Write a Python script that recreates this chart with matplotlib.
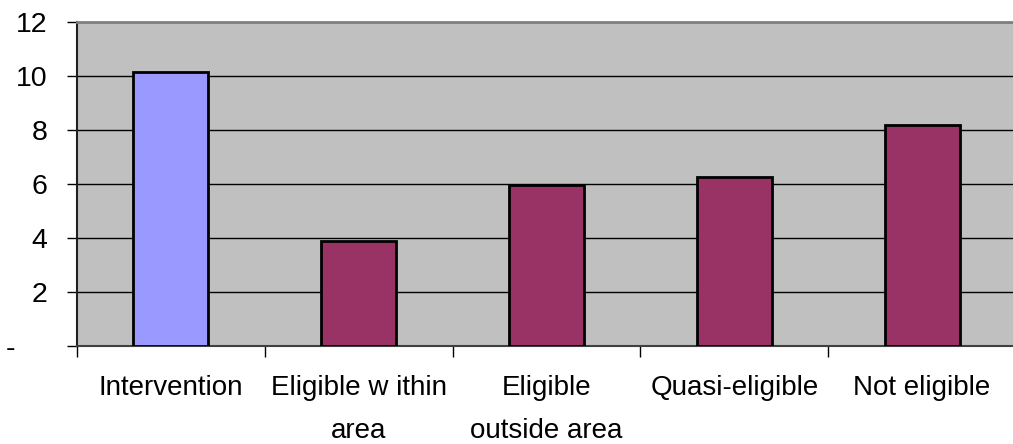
import matplotlib
matplotlib.use("Agg")
import matplotlib.pyplot as plt

categories = ["Intervention", "Eligible w ithin\narea", "Eligible\noutside area",
              "Quasi-eligible", "Not eligible"]
values = [10.15, 3.9, 5.97, 6.27, 8.2]
bar_colors = ["#9999FF", "#993366", "#993366", "#993366", "#993366"]
y_ticks = [0, 2, 4, 6, 8, 10, 12]
y_tick_labels = ["-    ", "2", "4", "6", "8", "10", "12"]

plt.rcParams["font.family"] = ["Liberation Sans", "DejaVu Sans"]

fig = plt.figure(figsize=(10.13, 4.44), dpi=100)
ax = fig.add_axes([77 / 1013, 98 / 444, (1016 - 77) / 1013, 324 / 444])
ax.set_facecolor("#C0C0C0")

x = range(len(categories))
ax.bar(x, values, width=0.4, color=bar_colors, edgecolor="black",
       linewidth=2, zorder=3)

ax.set_xlim(-0.5, len(categories) - 0.5)
ax.set_ylim(0, 12)

ax.set_yticks(y_ticks)
ax.set_yticklabels(y_tick_labels)
ax.yaxis.grid(True, color="black", linewidth=1.0, zorder=1)
ax.set_axisbelow(True)

# category boundaries carry the x tick marks
ax.set_xticks([i - 0.5 for i in range(len(categories) + 1)])
ax.set_xticklabels([])
ax.set_xticks(list(x), minor=True)
ax.set_xticklabels(categories, minor=True, fontsize=20, linespacing=1.85)
ax.tick_params(axis="x", which="major", length=8, width=1, color="black",
               direction="out")
ax.tick_params(axis="x", which="minor", length=0, pad=21)
ax.tick_params(axis="y", length=7, width=1, color="black", direction="out",
               labelsize=20.5, pad=14.5)

ax.spines["left"].set_color("#202020")
ax.spines["left"].set_linewidth(1.5)
ax.spines["bottom"].set_color("#404040")
ax.spines["bottom"].set_linewidth(1.5)
ax.spines["top"].set_color("#808080")
ax.spines["top"].set_linewidth(2)
ax.spines["right"].set_visible(False)

fig.savefig("out.png", dpi=100)
